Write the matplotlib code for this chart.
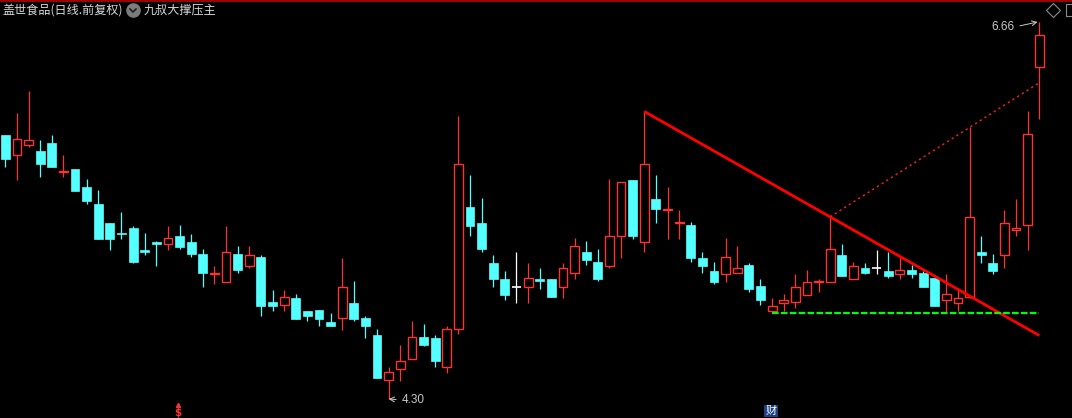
import matplotlib
matplotlib.use('Agg')
import matplotlib.pyplot as plt
from matplotlib.patches import Rectangle
from matplotlib.lines import Line2D

# daily candles, oldest first
opens = [5.95, 5.83, 5.89, 5.85, 5.90, 5.72, 5.74, 5.63, 5.52, 5.40,
         5.34, 5.37, 5.23, 5.28, 5.27, 5.32, 5.28, 5.21, 5.08, 5.03,
         5.21, 5.13, 5.19, 4.91, 4.89, 4.93, 4.85, 4.86, 4.78, 4.81,
         4.90, 4.81, 4.70, 4.42, 4.49, 4.55, 4.69, 4.68, 4.50, 4.74,
         5.50, 5.40, 5.15, 5.05, 5.00, 5.00, 5.05, 5.05, 5.00, 5.09,
         5.22, 5.16, 5.13, 5.32, 5.67, 5.28, 5.55, 5.48, 5.40, 5.39,
         5.18, 5.10, 5.08, 5.09, 5.14, 5.01, 4.85, 4.90, 4.91, 4.95,
         5.03, 5.03, 5.20, 5.05, 5.12, 5.12, 5.10, 5.08, 5.11, 5.09,
         5.06, 4.92, 4.90, 4.94, 5.22, 5.15, 5.20, 5.36, 5.39, 6.38]
highs = [5.95, 6.09, 6.23, 5.92, 5.95, 5.83, 5.74, 5.68, 5.61, 5.40,
         5.47, 5.38, 5.34, 5.29, 5.38, 5.39, 5.33, 5.24, 5.13, 5.38,
         5.26, 5.26, 5.20, 4.98, 4.98, 4.96, 4.85, 4.86, 4.84, 5.18,
         5.04, 4.82, 4.74, 4.50, 4.64, 4.79, 4.77, 4.70, 4.76, 6.07,
         5.70, 5.56, 5.20, 5.10, 5.22, 5.15, 5.12, 5.05, 5.15, 5.31,
         5.29, 5.24, 5.68, 5.66, 5.67, 6.10, 5.70, 5.63, 5.48, 5.41,
         5.22, 5.16, 5.31, 5.26, 5.15, 5.05, 4.93, 4.96, 5.08, 5.11,
         5.05, 5.44, 5.27, 5.16, 5.15, 5.23, 5.22, 5.19, 5.14, 5.10,
         5.06, 5.08, 4.99, 6.00, 5.32, 5.21, 5.48, 5.55, 6.10, 6.66]
lows = [5.75, 5.67, 5.88, 5.69, 5.75, 5.69, 5.60, 5.52, 5.30, 5.23,
        5.30, 5.15, 5.20, 5.13, 5.23, 5.24, 5.19, 5.00, 5.02, 5.03,
        5.09, 5.12, 4.82, 4.85, 4.85, 4.80, 4.79, 4.76, 4.76, 4.73,
        4.79, 4.68, 4.43, 4.30, 4.41, 4.55, 4.63, 4.50, 4.46, 4.71,
        5.32, 5.22, 5.00, 4.92, 4.90, 4.90, 4.99, 4.94, 4.93, 5.05,
        5.14, 5.04, 5.12, 5.18, 5.30, 5.22, 5.40, 5.30, 5.30, 5.16,
        5.09, 5.02, 5.03, 5.09, 4.97, 4.89, 4.84, 4.85, 4.87, 4.95,
        4.97, 5.03, 5.07, 5.05, 5.08, 5.08, 5.06, 5.05, 5.06, 5.00,
        4.88, 4.84, 4.85, 4.93, 5.15, 5.08, 5.12, 5.32, 5.23, 6.05]
closes = [5.80, 5.93, 5.92, 5.77, 5.75, 5.73, 5.60, 5.54, 5.30, 5.30,
          5.33, 5.16, 5.22, 5.27, 5.31, 5.25, 5.21, 5.09, 5.09, 5.22,
          5.11, 5.20, 4.88, 4.88, 4.94, 4.80, 4.82, 4.80, 4.76, 5.00,
          4.80, 4.76, 4.43, 4.47, 4.54, 4.69, 4.64, 4.54, 4.74, 5.77,
          5.38, 5.24, 5.05, 4.95, 5.00, 5.06, 5.04, 4.94, 5.12, 5.26,
          5.17, 5.05, 5.32, 5.66, 5.32, 5.77, 5.49, 5.49, 5.41, 5.18,
          5.13, 5.03, 5.19, 5.12, 4.99, 4.92, 4.88, 4.92, 5.00, 5.03,
          5.04, 5.24, 5.07, 5.13, 5.09, 5.12, 5.07, 5.11, 5.08, 5.00,
          4.88, 4.96, 4.93, 5.44, 5.20, 5.10, 5.40, 5.37, 5.96, 6.58]

title = '盖世食品(日线.前复权)'
indicator = '九叔大撑压主'

# candles used by the indicator lines
press_a, press_b = 55, 71      # falling pressure line through two highs
rise_a, rise_b = 71, 83        # dotted line through two highs
support_from = 66              # green support from this low to the end

UP = '#ff3232'
DOWN = '#54ffff'
FLAT = '#ffffff'
TXT = '#c8c8c8'
CJK = ['Noto Sans CJK SC', 'DejaVu Sans']

W, H = 1072, 418
fig = plt.figure(figsize=(W / 100, H / 100), dpi=100, facecolor='black')


def fpos(x, y):
    # pixel (from top-left) -> figure fraction
    return x / W, 1 - y / H


# price axis: top of highs at 22px, bottom of lows at 399px
n = len(closes)
hi, lo = max(highs), min(lows)
k = (hi - lo) / (399 - 22)
ax = fig.add_axes([0, 0, 1, (H - 21) / H])
ax.set_facecolor('#080808')
ax.set_ylim(lo - (H - 399) * k, hi + 1 * k)
dx = 11.618
ax.set_xlim(-5.3 / dx, (W - 5.3) / dx)
ax.axis('off')

w = 0.76
for i in range(n):
    o, h, l, c = opens[i], highs[i], lows[i], closes[i]
    if c > o:
        ax.vlines(i, c, h, color=UP, lw=0.9)
        ax.vlines(i, l, o, color=UP, lw=0.9)
        ax.add_patch(Rectangle((i - w / 2, o), w, c - o, fill=False,
                               edgecolor=UP, lw=1.0))
    elif c < o:
        ax.vlines(i, l, h, color=DOWN, lw=0.9)
        ax.add_patch(Rectangle((i - w / 2, c), w, o - c, facecolor=DOWN,
                               edgecolor=DOWN, lw=0.5))
    else:
        ax.vlines(i, l, h, color=FLAT, lw=0.9)
        ax.hlines(o, i - w / 2, i + w / 2, color=FLAT, lw=1.2)

# pressure line
slope = (highs[press_b] - highs[press_a]) / (press_b - press_a)
ax.plot([press_a, n - 1],
        [highs[press_a], highs[press_a] + slope * (n - 1 - press_a)],
        color='#ff0000', lw=2.0, solid_capstyle='butt')

# dotted rising line
slope2 = (highs[rise_b] - highs[rise_a]) / (rise_b - rise_a)
ax.plot([rise_a, n - 1],
        [highs[rise_a], highs[rise_a] + slope2 * (n - 1 - rise_a)],
        color='#ff2020', lw=1.0, linestyle=(0, (1.6, 2.4)))

# support
ax.plot([support_from, n - 1], [lows[support_from]] * 2,
        color='#00ff00', lw=1.6, linestyle=(0, (3, 1)))

# max / min labels
top_i = highs.index(hi)
low_i = lows.index(lo)
ax.annotate('%.2f' % hi, xy=(top_i - 0.15, hi), xytext=(-23, -5),
            textcoords='offset pixels', ha='right', va='center',
            color=TXT, fontsize=8.5, family='Liberation Sans',
            arrowprops=dict(arrowstyle='->', color=TXT, lw=0.7,
                            relpos=(1, 0.5), shrinkA=2, shrinkB=0))
ax.annotate('%.2f' % lo, xy=(low_i, lo), xytext=(13, -1),
            textcoords='offset pixels', ha='left', va='center',
            color=TXT, fontsize=8.5, family='Liberation Sans',
            arrowprops=dict(arrowstyle='->', color=TXT, lw=0.7,
                            relpos=(0, 0.5), shrinkA=2, shrinkB=0))

# header bar
fig.add_artist(Line2D([0, 1], [1 - 0.5 / H] * 2, color='#c00000', lw=1.2,
                      transform=fig.transFigure))
fig.text(*fpos(2, 10), title, color='#d8d8d8', fontsize=8.7, va='center',
         family=CJK)
fig.add_artist(Line2D([fpos(133, 10)[0]], [fpos(133, 10)[1]], marker='o',
                      ms=9.5, color='#7c7c7c', transform=fig.transFigure))
fig.add_artist(Line2D([fpos(130, 9)[0], fpos(133, 12)[0], fpos(136, 9)[0]],
                      [fpos(130, 9)[1], fpos(133, 12)[1], fpos(136, 9)[1]],
                      color='#202020', lw=1.2, transform=fig.transFigure))
fig.text(*fpos(144, 10), indicator, color='#d8d8d8', fontsize=8.7,
         va='center', family=CJK)
fig.add_artist(Line2D([fpos(1053, 10)[0]], [fpos(1053, 10)[1]], marker='D',
                      ms=7, mfc='none', mec='#8c8c8c', mew=0.8,
                      transform=fig.transFigure))
fig.add_artist(Line2D([fpos(1072, 10)[0]], [fpos(1072, 10)[1]], marker='s',
                      ms=8, mfc='none', mec='#8c8c8c', mew=0.8,
                      transform=fig.transFigure))

# event marks along the bottom
fig.add_artist(Line2D([fpos(178, 405)[0]], [fpos(178, 405)[1]], marker='^',
                      ms=3, color=UP, transform=fig.transFigure))
fig.text(*fpos(178, 413), '$', color=UP, fontsize=7.5, fontweight='bold',
         ha='center', va='center')
fig.text(*fpos(771, 411), '财', color='white', fontsize=8, ha='center',
         va='center', family=CJK,
         bbox=dict(boxstyle='square,pad=0.12', facecolor='#1e3f82',
                   edgecolor='none'))

fig.savefig('out.png', dpi=100, facecolor='black')
